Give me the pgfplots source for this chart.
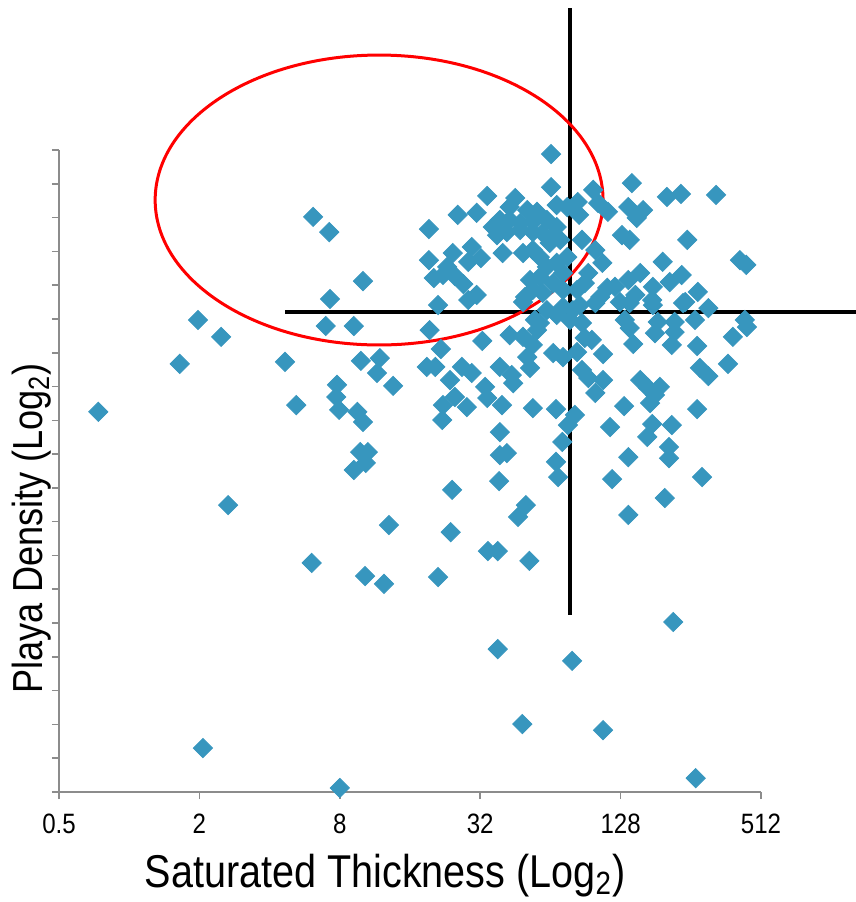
\documentclass[border=0pt]{standalone}
\usepackage{fontspec}
\setmainfont{Liberation Sans}[FakeStretch=0.86]
\usepackage{pgfplots}
\pgfplotsset{compat=1.18}
\definecolor{dotblue}{RGB}{55,150,190}
\definecolor{axgray}{RGB}{140,140,140}

% x: log2 of saturated thickness, y: playa density in tick units
\pgfplotstableread{
x y
-0.44 11.25
0.72 12.67
0.98 13.97
1.31 13.47
1.05 1.30
1.41 8.49
2.22 12.73
2.38 11.45
2.62 17.02
2.85 16.57
2.60 6.78
3.00 0.12
2.86 14.59
2.80 13.79
3.20 13.79
3.33 15.12
2.96 12.05
2.95 11.69
2.99 11.31
3.25 11.25
3.33 10.95
3.30 12.76
3.57 12.84
3.53 12.40
3.76 12.02
3.29 10.06
3.40 10.06
3.37 9.74
3.20 9.53
3.36 6.39
3.63 6.16
3.70 7.90
4.40 6.36
4.58 7.69
4.60 8.94
4.27 16.66
4.68 17.08
4.95 17.14
5.10 17.64
4.27 15.74
4.34 15.21
4.61 15.95
4.88 16.13
5.01 15.80
4.83 15.69
4.53 15.54
4.47 15.30
4.76 15.03
4.95 14.71
4.83 14.56
4.40 14.41
4.28 13.67
4.44 13.11
4.24 12.58
4.36 12.58
5.03 13.35
5.18 16.72
5.28 16.93
5.24 16.48
4.64 15.27
6.01 18.88
6.01 17.90
5.50 17.58
5.42 17.31
5.67 17.22
5.81 17.17
6.09 17.37
6.24 17.31
5.42 16.93
5.57 16.84
5.75 16.87
5.95 16.93
6.09 16.72
5.38 16.57
5.57 16.63
5.75 16.57
5.89 16.54
6.04 16.43
5.99 16.25
6.14 16.34
5.32 15.95
5.61 15.95
5.75 16.04
5.85 15.83
6.24 15.83
5.71 15.15
5.85 15.24
5.95 15.54
6.09 15.66
6.18 15.36
6.04 15.06
6.18 14.86
5.89 14.77
5.75 14.86
5.64 14.65
6.18 14.35
5.95 14.26
6.09 14.12
5.78 13.97
6.28 13.97
5.61 14.50
6.32 14.26
6.61 17.82
7.16 18.02
7.66 17.61
7.86 17.70
8.36 17.67
6.39 17.46
6.68 17.43
6.82 17.17
7.11 17.31
7.32 17.22
7.23 16.99
6.41 17.08
7.02 16.48
7.13 16.34
7.95 16.34
8.70 15.74
8.79 15.60
7.60 15.69
7.28 15.36
7.11 15.15
7.87 15.30
7.70 15.09
7.46 14.95
8.10 14.80
7.92 14.50
8.25 14.32
7.45 14.56
7.21 14.71
6.92 14.95
6.81 14.92
6.71 14.65
6.74 15.66
6.64 16.04
6.45 16.34
6.54 15.36
6.49 15.06
6.38 14.86
6.64 14.47
7.06 13.97
7.53 13.91
7.77 13.91
8.06 13.97
8.77 13.97
6.45 13.88
6.42 14.41
6.99 14.50
7.13 14.47
7.46 14.41
7.89 14.47
6.49 13.44
6.59 13.38
6.38 13.02
6.75 12.96
7.13 13.73
7.49 13.58
7.77 13.61
7.73 13.23
7.18 13.26
8.09 13.20
8.60 13.47
8.80 13.76
8.53 12.67
8.13 12.55
8.25 12.31
6.45 12.49
6.54 12.25
6.75 12.19
6.64 11.81
6.35 11.16
7.28 12.19
7.39 11.96
7.56 11.99
7.49 11.75
7.42 11.51
7.05 11.42
8.09 11.33
6.85 10.80
7.45 10.89
7.73 10.86
7.38 10.51
7.69 10.21
7.69 9.88
7.11 9.91
6.88 9.26
8.16 9.32
7.63 8.70
7.11 8.20
7.75 5.03
6.31 3.88
6.75 1.83
8.07 0.41
5.42 13.52
5.61 13.47
5.81 13.67
5.75 13.23
5.67 12.87
6.04 12.99
6.18 12.87
4.57 12.19
4.74 12.58
4.88 12.40
5.28 12.58
5.45 12.34
5.71 12.55
5.47 12.10
5.07 11.99
5.10 11.66
4.64 11.69
4.47 11.45
4.81 11.39
4.46 11.01
5.31 11.45
5.75 11.36
6.08 11.33
6.25 10.86
6.17 10.36
5.28 10.65
5.28 9.97
5.38 10.03
6.08 9.77
6.11 9.32
5.27 9.20
5.65 8.49
5.54 8.14
5.70 6.84
5.11 7.13
5.25 7.13
5.25 4.23
5.60 2.01
5.85 13.88
}\playadata

\begin{document}
\begin{tikzpicture}
\begin{axis}[
    scale only axis,
    width=351pt, height=321pt,
    xmin=-1, xmax=9, ymin=0, ymax=19,
    clip=false,
    axis lines=left,
    axis line style={-, draw=axgray, line width=0.8pt},
    tick style={draw=axgray, line width=0.8pt},
    tick align=outside,
    major tick length=3.5pt,
    xtick={-1,1,3,5,7,9},
    xticklabels={0.5,2,8,32,128,512},
    ytick={0,1,...,19},
    yticklabels={},
    /pgf/number format/assume math mode=true,
    xticklabel style={font=\fontsize{14}{16}\selectfont, yshift=-4pt},
    xlabel={Saturated Thickness (Log\textsubscript{2})},
    ylabel={Playa Density (Log\textsubscript{2})},
    xlabel style={font=\fontsize{23}{27}\selectfont, at={(axis description cs:0.4644,-0.130)}, anchor=center},
    ylabel style={font=\fontsize{21}{25}\selectfont, at={(axis description cs:-0.0385,0.411)}, anchor=center, rotate=0},
]
\addplot[only marks, mark=square*, mark size=3.4pt, color=dotblue,
    mark options={rotate=45, draw=none, fill=dotblue}] table[x=x, y=y] {\playadata};
% crosshair
\addplot[black, line width=2pt, no marks] coordinates {(6.28,5.24) (6.28,23.2)};
\addplot[black, line width=2pt, no marks] coordinates {(2.22,14.21) (10.35,14.21)};
% highlight ellipse
\draw[red, line width=1.5pt] (axis cs:3.56,17.52) ellipse [x radius=3.19, y radius=4.29];
\end{axis}
\pgfresetboundingbox
\path[use as bounding box] (-29.5pt,-55pt) rectangle (398.5pt,396pt);
\end{tikzpicture}
\end{document}
